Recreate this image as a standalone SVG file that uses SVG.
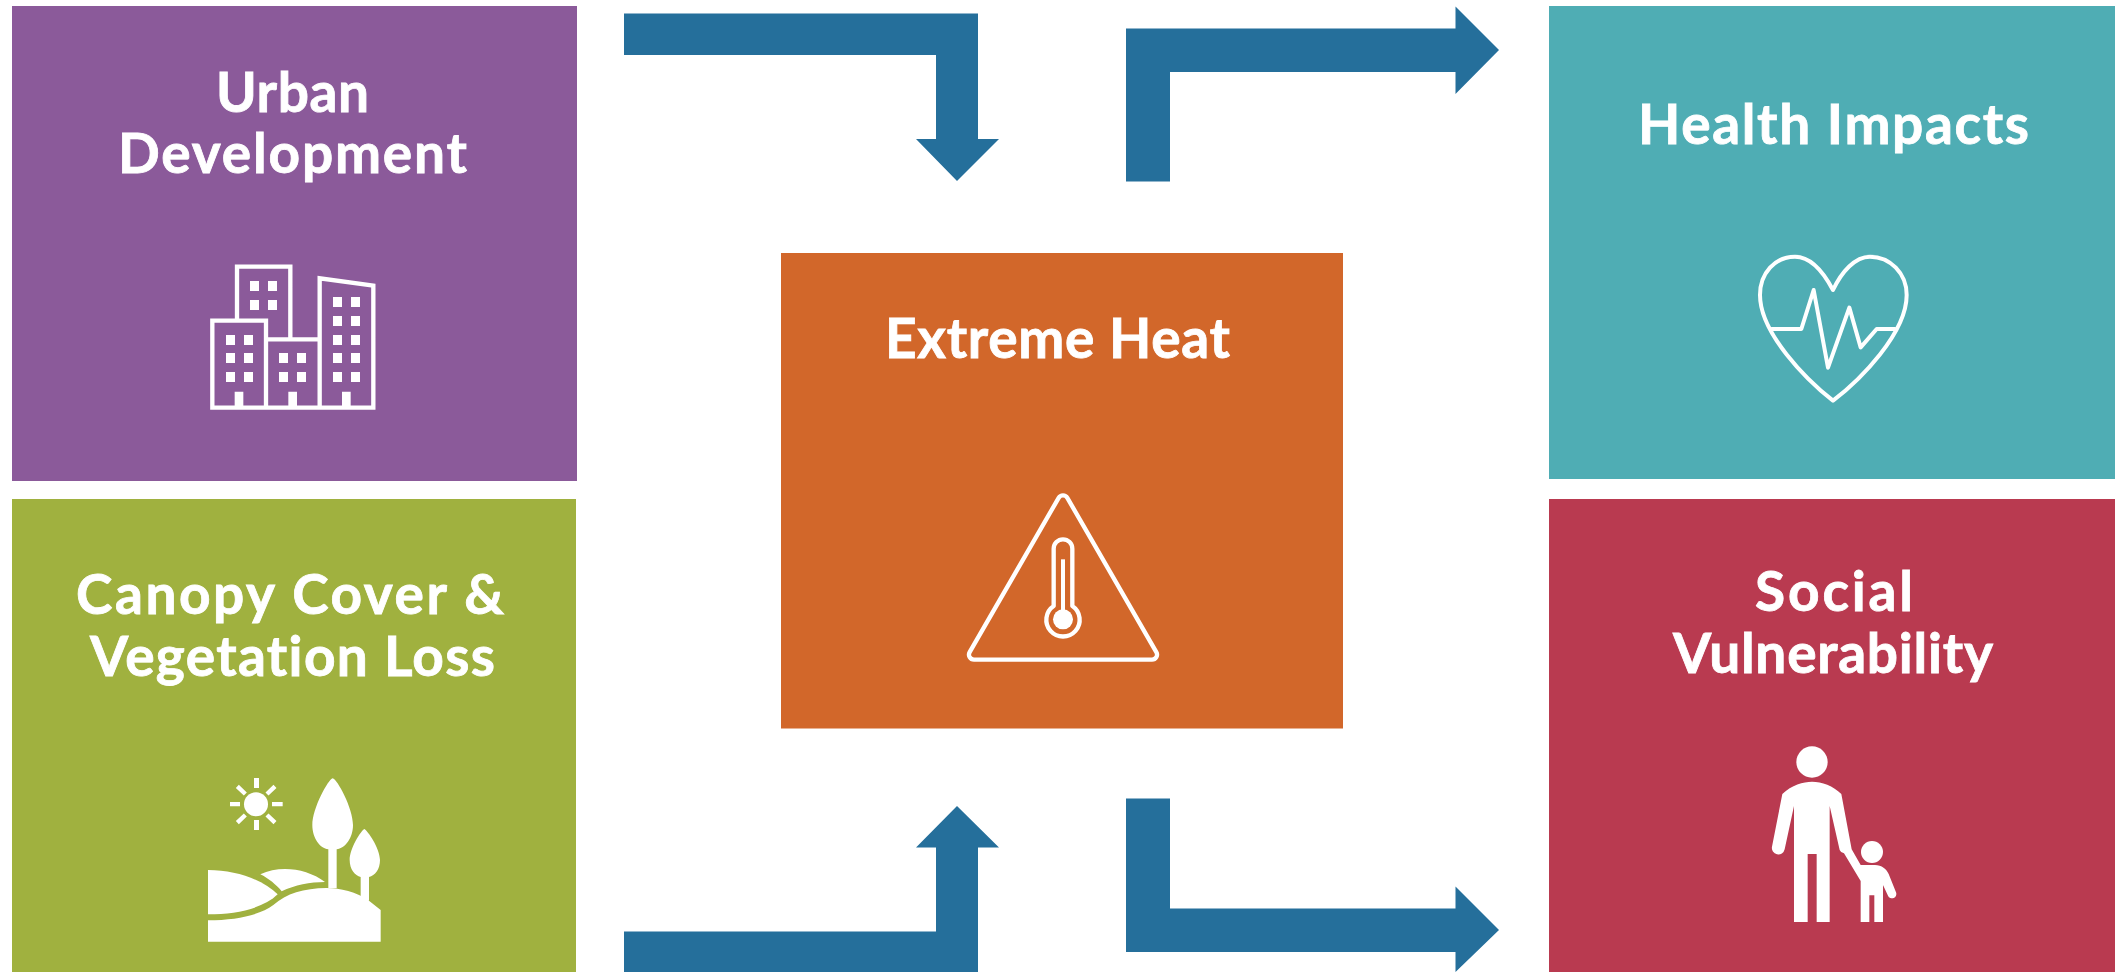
<svg xmlns="http://www.w3.org/2000/svg" width="2115" height="972" viewBox="0 0 2115 972">
<style>
.t{font-family:"Lato","Open Sans",sans-serif;font-weight:700;font-size:55px;fill:#fff;stroke:#fff;stroke-width:.8px;font-variant-ligatures:none}
.o{fill:none;stroke:#fff;stroke-linejoin:round;stroke-linecap:round}
.w{fill:#fff}
.a{fill:#256F9B}
</style>
<rect width="2115" height="972" fill="#fff"/>
<g id="node-urban">
<rect x="12" y="6" width="565" height="475" fill="#8B5A9A"/>
<text class="t" x="216" y="112" textLength="153" lengthAdjust="spacing">Urban</text>
<text class="t" x="118" y="173" textLength="349" lengthAdjust="spacing">Development</text>
<g transform="translate(180,240) scale(.33333)">
<path class="o" stroke-width="13" style="stroke-linejoin:miter" d="M171 242V80H331V298M97 503V242H258V503ZM258 298H419V503M419 503V115L580 137V503H97"/>
<path class="w" d="M210 123h27v30h-27zM264 123h27v30h-27zM210 180h27v30h-27zM264 180h27v30h-27zM138 285h27v30h-27zM192 285h27v30h-27zM138 339h27v30h-27zM192 339h27v30h-27zM138 396h27v30h-27zM192 396h27v30h-27zM297 339h27v30h-27zM351 339h27v30h-27zM297 396h27v30h-27zM351 396h27v30h-27zM459 171h27v30h-27zM513 171h27v30h-27zM459 228h27v30h-27zM513 228h27v30h-27zM459 285h27v30h-27zM513 285h27v30h-27zM459 339h27v30h-27zM513 339h27v30h-27zM459 396h27v30h-27zM513 396h27v30h-27zM164 455h26v48h-26zM325 455h26v48h-26zM486 455h26v48h-26z"/>
</g>
</g>
<g id="node-canopy">
<rect x="12" y="499" width="564" height="473" fill="#A0B13F"/>
<text class="t" x="76" y="614" textLength="428" lengthAdjust="spacing">Canopy Cover &amp;</text>
<text class="t" x="90" y="676" textLength="405" lengthAdjust="spacing">Vegetation Loss</text>
<g transform="translate(180,760) scale(.33333)">
<circle class="w" cx="228" cy="133" r="36"/>
<path class="w" d="M222 54h15v30h-15zM222 180h15v30h-15zM150 126h30v13h-30zM276 126h32v13h-32z"/>
<path class="o" stroke-width="13" style="stroke-linecap:butt" d="M172 79L196 102M285 79L261 102M172 188L196 165M285 188L261 165"/>
<path class="w" d="M458 55C472 58 519 145 519 195C519 235 495 265 470 268V385H445V268C420 265 397 235 397 195C397 145 445 58 458 55Z"/>
<path class="w" d="M553 207C563 212 600 265 600 300C600 328 585 347 567 351V422H542V351C525 347 509 328 509 300C509 265 543 212 553 207Z"/>
<path class="w" d="M84 545V481C170 480 240 465 280 435C320 400 370 385 440 384C480 384 530 395 567 422L602 450V545Z"/>
<path class="w" d="M84 330C170 330 250 360 293 403C250 445 170 463 84 463Z"/>
<path class="w" d="M241 343C300 315 380 325 435 366C390 366 345 375 305 394C290 375 265 355 241 343Z"/>
</g>
</g>
<g id="node-heat">
<rect x="781" y="253" width="562" height="475.500" fill="#D2672A"/>
<text class="t" x="885" y="358" textLength="345" lengthAdjust="spacing">Extreme Heat</text>
<g transform="translate(950,480) scale(.33333)">
<path class="o" stroke-width="13" d="M326 53.500A15 15 0 0 1 352 53.500L619 516.500A15 15 0 0 1 606 539H72A15 15 0 0 1 59 516.500Z"/>
<path class="o" stroke-width="13" d="M311 378V206A28 28 0 0 1 367 206V378A50 50 0 1 1 311 378Z"/>
<circle class="w" cx="339" cy="418" r="30"/>
<rect class="w" x="333" y="238" width="12" height="165"/>
</g>
</g>
<g id="node-health">
<rect x="1549" y="6" width="566" height="473" fill="#4FADB4"/>
<text class="t" x="1638" y="144" textLength="391" lengthAdjust="spacing">Health Impacts</text>
<g transform="translate(1740,240) scale(.33333)">
<path class="o" stroke-width="12" d="M279 150C250 95 210 50 165 50C105 50 60 100 60 165C60 280 200 420 279 482C360 420 500 280 500 165C500 100 450 50 390 50C345 50 305 95 279 150Z"/>
<path class="o" stroke-width="12" d="M95 267H184L221 150L264 383L328 203L362 322L410 267H465"/>
</g>
</g>
<g id="node-social">
<rect x="1549" y="499" width="566" height="473" fill="#B93A50"/>
<text class="t" x="1755" y="611" textLength="158" lengthAdjust="spacing">Social</text>
<text class="t" x="1673" y="673" textLength="320" lengthAdjust="spacing">Vulnerability</text>
<g transform="translate(1740,730) scale(.33333)">
<circle class="w" cx="216" cy="96" r="47"/>
<circle class="w" cx="396" cy="366" r="33"/>
<path class="w" d="M127 192C155 165 190 155 216 155C245 155 280 167 304 192L335 358L362 405H405C425 405 440 418 446 432L468 487A13 13 0 0 1 444 497L429 465V576H403V496H388V576H362V453L312 370Q302 368 299 360L269 228V576H230V372H203V576H162V228L134 358A19 19 0 0 1 96 350Z"/>
</g>
</g>
<g id="connectors">
<path class="a" d="M624 13.500H978V139H999L957 181L916 139H936V55H624Z"/>
<path class="a" d="M1126 181.500V28.500H1455.500V6.500L1499 50L1455.500 94V72H1170V181.500Z"/>
<path class="a" d="M624 972V931.500H936V847.500H916L957 806L999 847.500H978V972Z"/>
<path class="a" d="M1126 798.500H1170V908.500H1455.500V886.500L1499 930L1455.500 972V952H1126Z"/>
</g>
</svg>
